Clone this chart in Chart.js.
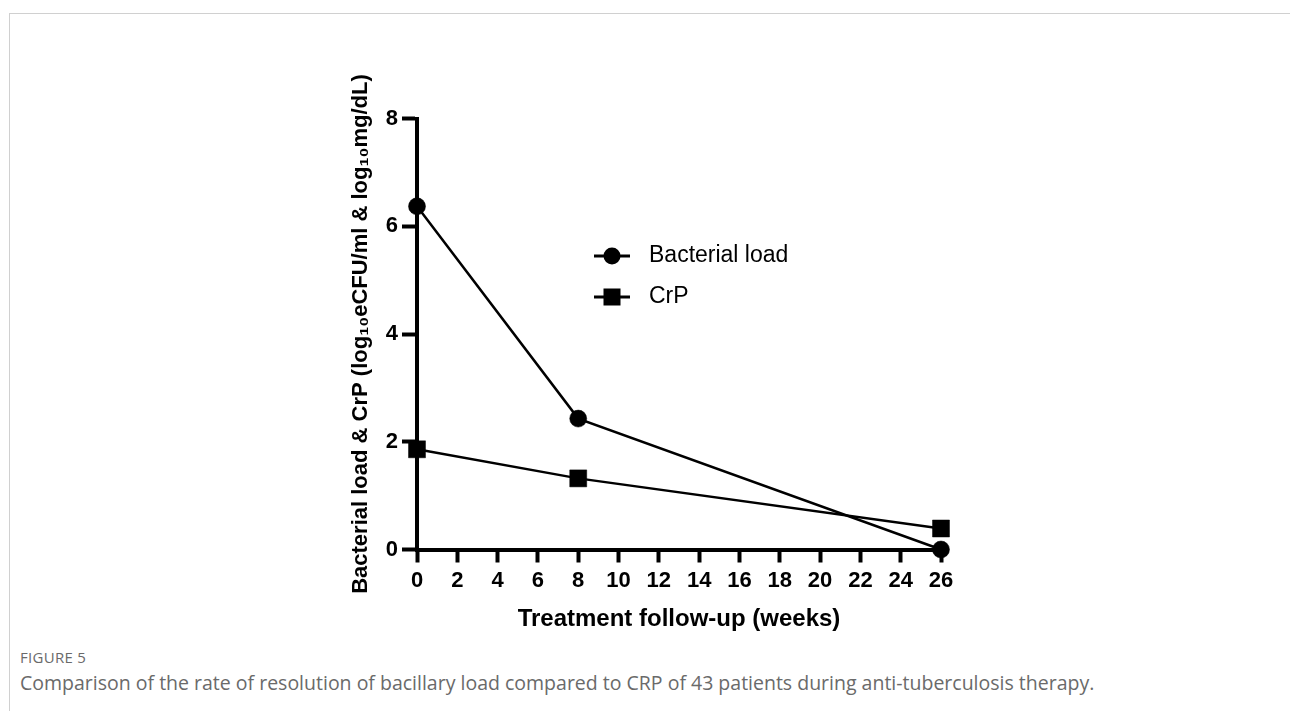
<!DOCTYPE html>
<html>
<head>
<meta charset="utf-8">
<script src="https://cdn.jsdelivr.net/npm/chart.js@4.4.1/dist/chart.umd.min.js"></script>
<style>
  html, body { margin: 0; padding: 0; background: #fff; width: 1290px; height: 711px; overflow: hidden; }
  #frame { position: absolute; left: 9px; top: 13px; width: 1281px; height: 698px; border-top: 1px solid #d0d0d0; border-left: 1px solid #d0d0d0; }
  #wrap { position: absolute; left: 0; top: 0; width: 1290px; height: 640px; }
  #fig { position: absolute; left: 20px; top: 646px; line-height: 22px; font-family: "Open Sans", sans-serif; font-size: 15px; color: #6a6a6a; letter-spacing: 0.3px; }
  #cap { position: absolute; left: 20px; top: 670px; line-height: 26px; font-family: "Open Sans", sans-serif; font-size: 19.5px; color: #6a6a6a; white-space: nowrap; }
</style>
</head>
<body>
<div id="frame"></div>
<div id="wrap"><canvas id="c" width="1290" height="640"></canvas></div>
<div id="fig">FIGURE 5</div>
<div id="cap">Comparison of the rate of resolution of bacillary load compared to CRP of 43 patients during anti-tuberculosis therapy.</div>
<script>
const weeks = [0, 8, 26];
const bacterialLoad = [6.37, 2.43, 0.0];
const crp = [1.86, 1.32, 0.39];
const seriesLabels = ['Bacterial load', 'CrP'];
const xTitle = 'Treatment follow-up (weeks)';
const yTitle = 'Bacterial load & CrP (log\u2081\u2080eCFU/ml & log\u2081\u2080mg/dL)';

const FONT = "'Liberation Sans', Arial, sans-serif";

const legendPlugin = {
  id: 'customLegend',
  afterDraw(chart) {
    const ctx = chart.ctx;
    const rows = [256, 297];
    chart.data.datasets.forEach((ds, i) => {
      const y = rows[i];
      const x0 = 594, x1 = 630, cx = 612;
      ctx.save();
      ctx.strokeStyle = '#000';
      ctx.fillStyle = '#000';
      ctx.lineWidth = 3;
      ctx.beginPath(); ctx.moveTo(x0, y); ctx.lineTo(x1, y); ctx.stroke();
      if (ds.pointStyle === 'circle') {
        ctx.beginPath(); ctx.arc(cx, y, 8.5, 0, Math.PI * 2); ctx.fill();
      } else {
        ctx.fillRect(cx - 8.5, y - 8.5, 17, 17);
      }
      ctx.font = '23px ' + FONT;
      ctx.textBaseline = 'middle';
      ctx.textAlign = 'left';
      ctx.fillText(ds.label, 649, y);
      ctx.restore();
    });
  }
};

new Chart(document.getElementById('c'), {
  type: 'line',
  data: {
    datasets: [
      {
        label: seriesLabels[0],
        data: weeks.map((w, i) => ({x: w, y: bacterialLoad[i]})),
        borderColor: '#000', backgroundColor: '#000',
        borderWidth: 2.5, pointStyle: 'circle', pointRadius: 8.5, pointBorderWidth: 0.5,
        pointHoverRadius: 8.5, clip: false
      },
      {
        label: seriesLabels[1],
        data: weeks.map((w, i) => ({x: w, y: crp[i]})),
        borderColor: '#000', backgroundColor: '#000',
        borderWidth: 2.5, pointStyle: 'rect', pointRadius: 12, pointBorderWidth: 0.5,
        pointHoverRadius: 12, clip: false
      }
    ]
  },
  options: {
    responsive: false,
    animation: false,
    events: [],
    layout: { padding: { left: 344, right: 349, top: 118.5, bottom: 0 } },
    plugins: { legend: { display: false }, tooltip: { enabled: false } },
    scales: {
      x: {
        type: 'linear', min: 0, max: 26,
        afterFit(s) { s.height = 640 - 549.5; },
        ticks: { stepSize: 2, color: '#000', padding: 5, font: { family: FONT, size: 22, weight: 'bold' }, maxRotation: 0, autoSkip: false },
        grid: { drawOnChartArea: false, drawTicks: true, tickLength: 13, tickWidth: 4, color: '#000' },
        border: { display: true, color: '#000', width: 4 },
        title: { display: true, text: xTitle, color: '#000', padding: { top: 0, bottom: 6 }, font: { family: FONT, size: 24, weight: 'bold' } }
      },
      y: {
        type: 'linear', min: 0, max: 8,
        afterFit(s) { s.width = 417 - 344; },
        ticks: { stepSize: 2, color: '#000', padding: 4, font: { family: FONT, size: 22, weight: 'bold' } },
        grid: { drawOnChartArea: false, drawTicks: true, tickLength: 15, tickWidth: 4, color: '#000' },
        border: { display: true, color: '#000', width: 4 },
        title: { display: true, text: yTitle, color: '#000', padding: { top: 4, bottom: 0 }, font: { family: FONT, size: 22, weight: 'bold' } }
      }
    }
  },
  plugins: [legendPlugin]
});
</script>
</body>
</html>
